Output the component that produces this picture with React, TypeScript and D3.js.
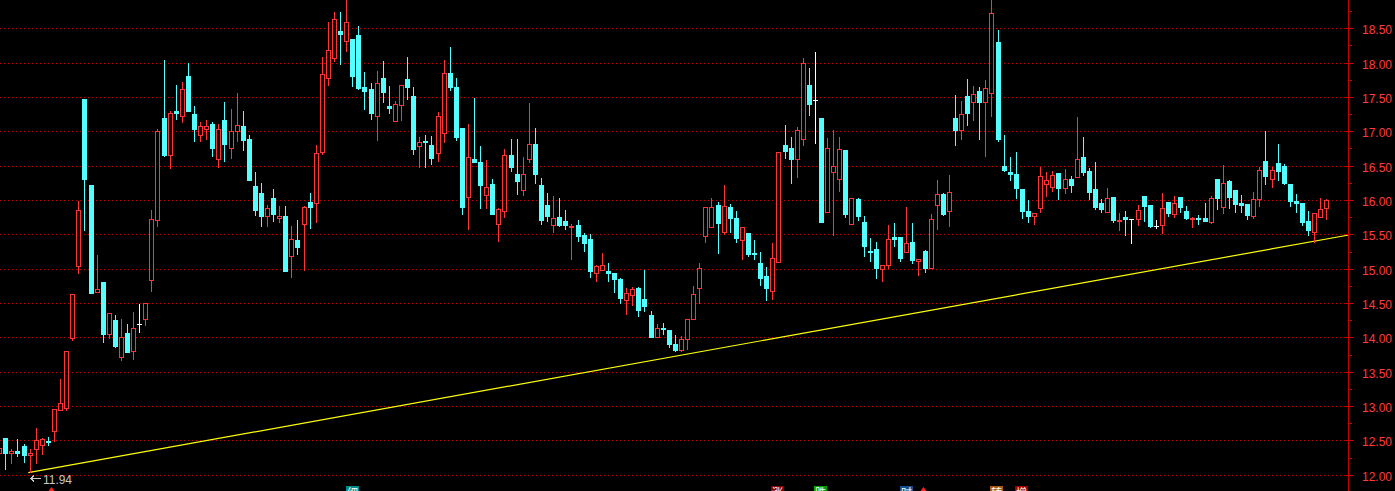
import React, { useEffect } from 'react';
import * as d3 from 'd3';

// OHLC, one entry per trading day (first entry is partly cut at left edge)
const opens = [
  12.32, 12.53, 12.31, 12.34, 12.42, 12.28, 12.37, 12.43, 12.49, 12.63,
  12.94, 12.97, 13.99, 15.04, 17.47, 16.22, 14.66, 14.81, 14.05, 14.25,
  13.72, 14.06, 13.80, 14.20, 14.27, 14.84, 15.71, 17.19, 16.65, 17.30,
  17.22, 17.80, 17.25, 16.94, 17.03, 17.11, 16.59, 17.17, 16.75, 17.01,
  17.08, 16.89, 16.20, 16.10, 15.76, 16.03, 15.74, 15.77, 15.19, 15.42,
  15.65, 15.97, 15.95, 16.70, 17.77, 18.07, 18.46, 18.32, 18.34, 18.40,
  17.65, 17.62, 17.23, 17.78, 17.37, 17.15, 17.39, 17.76, 17.51, 16.78,
  16.86, 16.80, 16.69, 16.98, 17.85, 17.65, 17.05, 16.05, 16.60, 16.55,
  16.07, 16.23, 15.65, 15.84, 16.66, 16.38, 16.15, 16.59, 16.82, 16.22,
  15.93, 15.64, 15.75, 15.69, 15.60, 15.64, 15.49, 15.43, 14.94, 14.98,
  14.96, 14.93, 14.85, 14.55, 14.61, 14.72, 14.56, 14.32, 14.01, 14.14,
  14.10, 13.91, 13.81, 13.98, 14.26, 14.72, 15.48, 15.60, 15.93, 15.54,
  15.90, 15.74, 15.42, 15.52, 15.23, 15.08, 14.89, 14.68, 15.10, 16.80,
  16.76, 16.59, 16.89, 17.68, 17.46, 17.19, 15.83, 16.41, 16.30, 16.73,
  15.65, 16.01, 15.68, 15.26, 15.28, 15.00, 15.06, 15.46, 15.46, 15.25,
  15.39, 15.11, 15.26, 15.01, 15.92, 16.09, 15.84, 17.19, 17.02, 17.51,
  17.42, 17.59, 17.42, 17.56, 18.30, 16.50, 16.41, 16.38, 16.16, 15.84,
  15.76, 15.89, 16.24, 16.19, 16.39, 16.17, 16.31, 16.34, 16.63, 16.42,
  16.16, 15.96, 15.83, 16.04, 15.70, 15.75, 15.73, 15.72, 16.06, 15.93,
  15.62, 15.64, 15.97, 15.80, 16.04, 15.84, 15.73, 15.74, 15.74, 15.68,
  16.31, 15.90, 16.28, 16.15, 15.96, 15.94, 15.77, 16.01, 16.57, 16.31,
  16.54, 16.50, 16.23, 15.99, 15.96, 15.69, 15.53, 15.75, 15.88,
];
const highs = [
  12.42, 12.53, 12.37, 12.52, 12.45, 12.37, 12.68, 12.53, 12.55, 12.96,
  13.39, 13.80, 14.63, 15.99, 17.47, 16.22, 15.20, 14.81, 14.36, 14.33,
  14.27, 14.20, 14.37, 14.49, 14.50, 15.85, 17.04, 18.04, 17.30, 17.68,
  17.72, 17.99, 17.37, 17.13, 17.16, 17.13, 17.10, 17.43, 17.32, 17.56,
  17.30, 16.95, 16.41, 16.25, 15.92, 16.16, 15.91, 15.91, 15.62, 15.71,
  15.91, 16.10, 16.80, 18.08, 18.59, 18.74, 18.74, 18.91, 18.34, 18.53,
  17.86, 17.70, 17.88, 18.02, 17.66, 17.44, 17.68, 18.08, 17.65, 16.92,
  16.95, 16.93, 17.28, 18.04, 18.23, 17.78, 17.05, 17.11, 17.49, 16.79,
  16.58, 16.31, 15.88, 16.74, 16.89, 16.89, 16.63, 17.41, 17.05, 16.32,
  16.10, 16.06, 16.03, 15.85, 15.65, 15.71, 15.52, 15.50, 15.05, 15.23,
  15.08, 14.93, 14.87, 14.72, 14.74, 14.74, 14.98, 14.39, 14.20, 14.21,
  14.11, 14.04, 14.02, 14.27, 14.75, 15.08, 15.90, 16.03, 15.97, 16.22,
  15.94, 15.84, 15.61, 15.52, 15.42, 15.25, 15.02, 15.38, 16.70, 17.09,
  16.92, 17.06, 18.07, 17.92, 18.15, 17.19, 16.90, 17.02, 16.92, 16.73,
  16.03, 16.03, 15.77, 15.45, 15.39, 15.06, 15.63, 15.67, 15.46, 15.90,
  15.67, 15.14, 15.27, 15.80, 16.29, 16.10, 16.36, 17.53, 17.44, 17.76,
  17.66, 17.65, 17.75, 18.91, 18.48, 16.95, 16.63, 16.70, 16.16, 16.00,
  15.81, 16.48, 16.41, 16.42, 16.39, 16.45, 16.35, 17.21, 16.92, 16.47,
  16.55, 16.01, 16.17, 16.04, 15.81, 15.84, 15.73, 15.93, 16.06, 15.93,
  15.71, 16.10, 15.97, 16.06, 16.04, 15.91, 15.75, 15.78, 15.96, 16.06,
  16.31, 16.51, 16.29, 16.15, 16.07, 15.94, 16.12, 16.48, 17.01, 16.48,
  16.82, 16.52, 16.23, 16.09, 15.96, 15.84, 15.81, 16.03, 16.01,
];
const lows = [
  12.27, 12.07, 12.16, 12.26, 12.17, 12.02, 12.16, 12.29, 12.42, 12.48,
  12.94, 12.93, 13.94, 14.92, 15.55, 14.65, 14.65, 13.92, 13.98, 13.84,
  13.66, 13.78, 13.67, 14.07, 14.16, 14.66, 15.61, 16.62, 16.45, 17.16,
  17.12, 17.30, 16.85, 16.85, 16.88, 16.63, 16.47, 16.56, 16.59, 16.85,
  16.72, 16.28, 15.77, 15.61, 15.60, 15.68, 15.67, 14.96, 14.87, 15.20,
  14.97, 15.58, 15.67, 16.66, 17.66, 18.01, 17.96, 18.16, 17.64, 17.60,
  17.31, 17.16, 16.86, 17.41, 17.25, 17.15, 17.15, 17.46, 16.66, 16.47,
  16.47, 16.51, 16.55, 16.83, 17.59, 16.86, 15.78, 15.56, 16.54, 15.87,
  15.87, 15.80, 15.39, 15.74, 16.41, 16.07, 16.06, 16.54, 16.23, 15.64,
  15.68, 15.52, 15.61, 15.57, 15.12, 15.39, 15.25, 14.87, 14.80, 14.96,
  14.81, 14.64, 14.48, 14.32, 14.45, 14.30, 14.37, 14.01, 14.01, 14.04,
  13.85, 13.78, 13.78, 13.82, 14.26, 14.49, 15.38, 15.60, 15.22, 15.49,
  15.52, 15.38, 15.12, 15.17, 15.13, 14.75, 14.53, 14.55, 15.09, 16.60,
  16.24, 16.32, 16.78, 17.23, 16.82, 15.68, 15.83, 15.47, 16.12, 15.74,
  15.65, 15.70, 15.17, 15.10, 14.85, 14.80, 15.00, 15.31, 15.09, 15.25,
  15.07, 14.90, 14.93, 15.01, 15.57, 15.77, 15.60, 16.79, 16.88, 17.08,
  17.15, 16.88, 16.62, 17.21, 16.85, 16.41, 16.27, 16.02, 15.73, 15.66,
  15.63, 15.81, 16.05, 16.12, 16.00, 16.09, 16.10, 16.34, 16.35, 16.00,
  15.86, 15.81, 15.83, 15.66, 15.55, 15.47, 15.36, 15.62, 15.68, 15.59,
  15.58, 15.50, 15.75, 15.74, 15.81, 15.71, 15.59, 15.64, 15.68, 15.65,
  15.85, 15.80, 15.87, 15.81, 15.81, 15.71, 15.72, 15.90, 16.22, 16.17,
  16.28, 16.22, 15.90, 15.81, 15.62, 15.48, 15.37, 15.75, 15.71,
];
const closes = [
  12.39, 12.32, 12.35, 12.32, 12.28, 12.31, 12.51, 12.52, 12.47, 12.96,
  13.05, 13.80, 14.63, 15.85, 16.31, 14.65, 14.70, 14.05, 14.36, 13.88,
  14.00, 13.78, 14.13, 14.20, 14.50, 15.72, 17.00, 16.66, 17.26, 17.27,
  17.62, 17.30, 17.04, 17.08, 17.08, 16.76, 17.04, 16.82, 17.00, 17.09,
  16.87, 16.29, 15.85, 15.77, 15.88, 15.80, 15.77, 14.97, 15.43, 15.31,
  15.90, 15.90, 16.69, 17.84, 18.18, 18.64, 18.42, 18.59, 17.81, 17.63,
  17.59, 17.27, 17.70, 17.57, 17.34, 17.40, 17.68, 17.65, 16.74, 16.84,
  16.84, 16.61, 17.22, 17.85, 17.65, 16.92, 15.90, 16.63, 16.55, 16.22,
  16.19, 15.80, 15.87, 16.66, 16.48, 16.28, 16.38, 16.82, 16.38, 15.71,
  15.76, 15.74, 15.63, 15.63, 15.62, 15.47, 15.38, 14.96, 15.04, 15.05,
  14.93, 14.85, 14.58, 14.65, 14.71, 14.40, 14.45, 14.01, 14.14, 14.12,
  13.91, 13.81, 13.97, 14.27, 14.63, 15.01, 15.90, 15.90, 15.66, 15.91,
  15.74, 15.44, 15.61, 15.22, 15.21, 14.86, 14.72, 15.16, 16.70, 16.71,
  16.60, 17.02, 17.99, 17.40, 17.46, 15.68, 16.76, 16.50, 16.74, 15.79,
  16.03, 15.76, 15.33, 15.24, 15.01, 15.06, 15.43, 15.43, 15.15, 15.38,
  15.12, 15.14, 15.01, 15.72, 16.09, 15.80, 16.12, 17.02, 17.25, 17.26,
  17.54, 17.43, 17.63, 18.72, 16.89, 16.44, 16.38, 16.17, 15.84, 15.77,
  15.81, 16.35, 16.29, 16.36, 16.18, 16.31, 16.22, 16.60, 16.41, 16.12,
  15.90, 15.87, 16.03, 15.71, 15.71, 15.73, 15.73, 15.85, 15.91, 15.62,
  15.62, 15.89, 15.81, 15.96, 15.90, 15.74, 15.74, 15.72, 15.69, 16.03,
  16.03, 16.25, 16.04, 15.94, 15.93, 15.78, 16.01, 16.44, 16.35, 16.44,
  16.42, 16.25, 15.99, 15.95, 15.68, 15.56, 15.81, 15.87, 16.00,
];

const priceTicks = [12, 12.5, 13, 13.5, 14, 14.5, 15, 15.5, 16, 16.5, 17, 17.5, 18, 18.5];
const minorTicks = [12.25, 12.75, 13.25, 13.75, 14.25, 14.75, 15.25, 15.75, 16.25, 16.75, 17.25, 17.75, 18.25, 18.75];
const lowLabel = '11.94';
// support trend line, in (bar index, price)
const trendIdx = [4.78, 221.7];
const trendVal = [12.03, 15.49];
// bottom toolbar markers (cut off at bottom edge)
const markerIdx = [57.9, 127.8, 134.9, 148.9, 163.8, 167.9];
const markerChars = ['细', '涨', '跌', '时', '转', '增'];
const markerColors = ['#008c8c', '#8c0000', '#00a000', '#14508c', '#a85a14', '#a00000'];
const triangleIdx = [8.5, 151.7];

const W = 1395;
const H = 491;
const UP = '#ff3434';
const DOWN = '#54ffff';
const GRID = '#c80000';

export default function App() {
  useEffect(() => {
    document.body.style.margin = '0';
    document.body.style.background = '#000';
  }, []);

  const n = Math.min(opens.length, highs.length, lows.length, closes.length);
  const x = d3.scaleLinear().domain([0, 218]).range([-0.8, 1326.3]);
  const y = d3.scaleLinear().domain([12, 18.5]).range([474.7, 28.3]);
  const axisX = 1348;

  const candles: React.ReactNode[] = [];
  for (let i = 0; i < n; i++) {
    const o = opens[i], h = highs[i], l = lows[i], c = closes[i];
    const cx = Math.round(x(i));
    const yH = Math.round(y(h));
    const yL = Math.round(y(l));
    if (c > o) {
      const top = Math.round(y(c));
      let bot = Math.round(y(o));
      if (bot - top < 1) bot = top + 1;
      candles.push(
        <g key={i}>
          {yH < top && <line x1={cx + 0.5} x2={cx + 0.5} y1={yH} y2={top} stroke={UP} />}
          {yL > bot && <line x1={cx + 0.5} x2={cx + 0.5} y1={bot + 1} y2={yL} stroke={UP} />}
          <rect x={cx - 1.5} y={top + 0.5} width={4} height={bot - top} fill="#000" stroke={UP} />
        </g>
      );
    } else if (c < o) {
      const top = Math.round(y(o));
      let bot = Math.round(y(c));
      if (bot - top < 1) bot = top + 1;
      candles.push(
        <g key={i}>
          <line x1={cx + 0.5} x2={cx + 0.5} y1={yH} y2={yL} stroke={DOWN} />
          <rect x={cx - 2} y={top} width={5} height={bot - top + 1} fill={DOWN} />
        </g>
      );
    } else {
      const yy = Math.round(y(o)) + 0.5;
      candles.push(
        <g key={i}>
          <line x1={cx + 0.5} x2={cx + 0.5} y1={yH} y2={yL} stroke="#fff" />
          <line x1={cx - 2} x2={cx + 3} y1={yy} y2={yy} stroke="#fff" />
        </g>
      );
    }
  }

  // lowest bar for the low label
  let minI = 0;
  for (let i = 1; i < n; i++) if (lows[i] < lows[minI]) minI = i;
  const lowX = Math.round(x(minI));
  const arrowY = Math.round(y(lows[minI])) + 5.5;

  return (
    <svg width={W} height={H} style={{ display: 'block', background: '#000' }} shapeRendering="crispEdges">
      <rect x={0} y={0} width={W} height={H} fill="#000" />
      {priceTicks.map((t) => {
        const yy = Math.round(y(t)) + 0.5;
        return (
          <line key={'g' + t} x1={0} x2={axisX} y1={yy} y2={yy} stroke={GRID} strokeDasharray="1,3" />
        );
      })}
      <line
        x1={x(trendIdx[0])}
        y1={y(trendVal[0])}
        x2={x(trendIdx[1])}
        y2={y(trendVal[1])}
        stroke="#ffff00"
        strokeWidth={1.2}
        shapeRendering="auto"
      />
      {candles}
      {/* right price axis */}
      <line x1={axisX + 0.5} x2={axisX + 0.5} y1={0} y2={H} stroke="#c80000" />
      {minorTicks.map((t) => {
        const yy = Math.round(y(t)) + 0.5;
        return <line key={'m' + t} x1={axisX} x2={axisX + 4} y1={yy} y2={yy} stroke="#c80000" />;
      })}
      {priceTicks.map((t) => {
        const yy = Math.round(y(t)) + 0.5;
        return (
          <g key={'t' + t}>
            <line x1={axisX - 2} x2={axisX + 6} y1={yy} y2={yy} stroke="#c80000" />
            <text
              x={1362}
              y={yy + 5}
              fill="#ff3c3c"
              fontFamily="'Liberation Sans', Arial, sans-serif"
              fontSize={13}
              textLength={30}
              lengthAdjust="spacingAndGlyphs"
            >
              {d3.format('.2f')(t)}
            </text>
          </g>
        );
      })}
      {/* lowest price marker */}
      <g stroke="#c8c8c8" fill="none">
        <line x1={lowX} x2={lowX + 11} y1={arrowY} y2={arrowY} />
        <polyline points={`${lowX + 4},${arrowY - 3} ${lowX + 1},${arrowY} ${lowX + 4},${arrowY + 3}`} />
      </g>
      <text
        x={lowX + 13}
        y={arrowY + 5.5}
        fill="#c8c8c8"
        fontFamily="'Liberation Sans', Arial, sans-serif"
        fontSize={13}
        textLength={29}
        lengthAdjust="spacingAndGlyphs"
      >
        {lowLabel}
      </text>
      {/* bottom toolbar markers */}
      {markerIdx.map((mi, j) => {
        const mx = Math.round(x(mi));
        return (
          <g key={'k' + j}>
            <rect x={mx - 6} y={486} width={13} height={8} fill={markerColors[j]} />
            <text
              x={mx + 0.5}
              y={497}
              fill="#fff"
              fontSize={11}
              textAnchor="middle"
              fontFamily="'Noto Sans CJK SC', sans-serif"
            >
              {markerChars[j]}
            </text>
          </g>
        );
      })}
      {triangleIdx.map((ti, j) => {
        const tx = Math.round(x(ti)) + 0.5;
        return (
          <polygon
            key={'tr' + j}
            points={`${tx},${487} ${tx - 3},${491} ${tx + 3},${491}`}
            fill="#ff2020"
            shapeRendering="auto"
          />
        );
      })}
    </svg>
  );
}
